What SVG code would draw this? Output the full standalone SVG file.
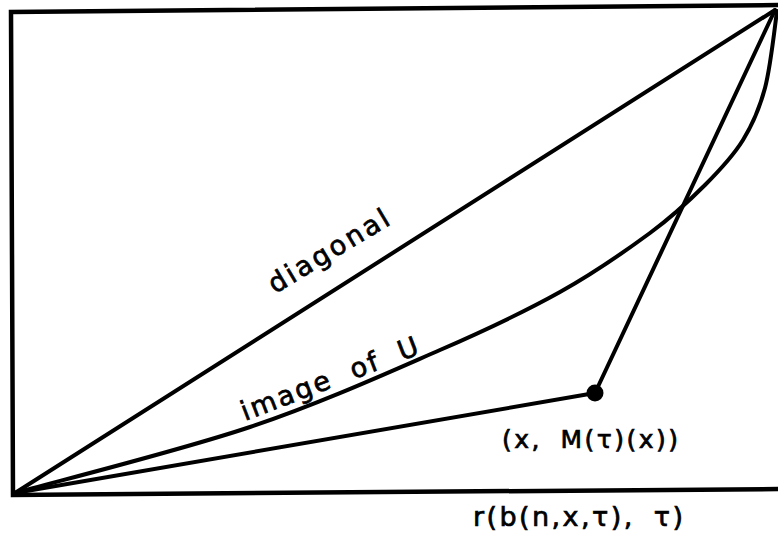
<svg xmlns="http://www.w3.org/2000/svg" width="778" height="534" viewBox="0 0 778 534">
<style>
.ln{fill:none;stroke:#000;stroke-width:4;stroke-linecap:round;stroke-linejoin:round}
.fr{fill:none;stroke:#000;stroke-width:4.5}
.lbl{font-family:"DejaVu Sans","Liberation Sans",sans-serif;fill:#000;stroke:#000;stroke-width:0.7}
</style>
<rect width="778" height="534" fill="#fff"/>
<g id="frame">
<polyline class="fr" points="780,5 11,12 13,495 780,489"/>
</g>
<g id="connectors">
<line id="diagonal-line" class="ln" x1="15" y1="493" x2="775" y2="10"/>
<path id="image-of-U" class="ln" d="M15,493 C54.2,482 179.2,450.8 250,427 C320.8,403.2 388.3,372.5 440,350 C491.7,327.5 525,311.5 560,292 C595,272.5 625.8,250.8 650,233 C674.2,215.2 689.5,200.5 705,185 C720.5,169.5 733,156.2 743,140 C753,123.8 759.3,109.3 765,88 C770.7,66.7 775,24.7 777,11"/>
<line id="to-point" class="ln" x1="15" y1="493" x2="595" y2="393"/>
<line id="from-point" class="ln" x1="595" y1="393" x2="775" y2="10"/>
</g>
<g id="point">
<circle cx="595" cy="393" r="8.5" fill="#000"/>
</g>
<g id="labels">
<text class="lbl" font-size="27" transform="translate(275,294) rotate(-31)" textLength="136" lengthAdjust="spacing">diagonal</text>
<text class="lbl" font-size="27" word-spacing="10" transform="translate(245,421) rotate(-21)" textLength="188" lengthAdjust="spacing">image of U</text>
<text class="lbl" font-size="25" x="502" y="448" word-spacing="8" textLength="176" lengthAdjust="spacing">(x, M(τ)(x))</text>
<text class="lbl" font-size="27" x="473" y="526" word-spacing="8" textLength="210" lengthAdjust="spacing">r(b(n,x,τ), τ)</text>
</g>
</svg>
